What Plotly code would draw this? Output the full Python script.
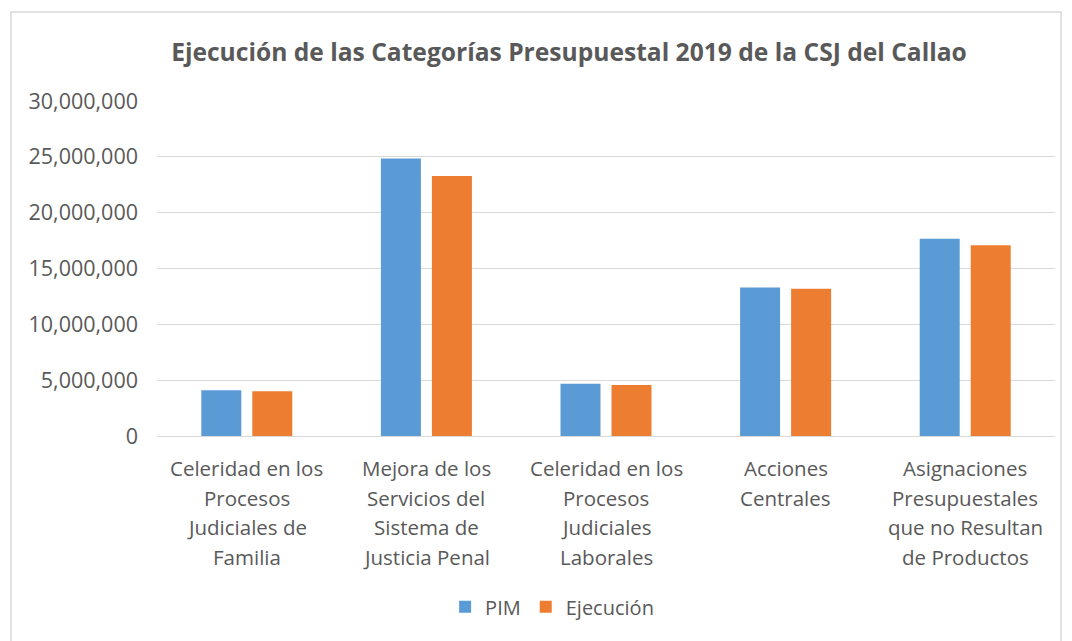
import plotly.graph_objects as go

categories = [
    "Celeridad en los<br>Procesos<br>Judiciales de<br>Familia",
    "Mejora de los<br>Servicios del<br>Sistema de<br>Justicia Penal",
    "Celeridad en los<br>Procesos<br>Judiciales<br>Laborales",
    "Acciones<br>Centrales",
    "Asignaciones<br>Presupuestales<br>que no Resultan<br>de Productos",
]
pim = [4090000, 24840000, 4690000, 13300000, 17670000]
ejecucion = [4000000, 23280000, 4570000, 13180000, 17090000]
y_ticks = [0, 5000000, 10000000, 15000000, 20000000, 25000000, 30000000]
y_tick_labels = ["0", "5,000,000", "10,000,000", "15,000,000", "20,000,000", "25,000,000", "30,000,000"]

FONT = "Open Sans, Noto Sans, sans-serif"
GREY = "#595959"
OFF = 8  # page body margin
W, H = 1072 - OFF, 641 - OFF
ML, MT = 157 - OFF, 101 - OFF
PW, PH = 898, 335

fig = go.Figure()
fig.add_trace(go.Bar(name="PIM", x=categories, y=pim, marker=dict(color="#5B9BD5", line=dict(width=0))))
fig.add_trace(go.Bar(name="Ejecución", x=categories, y=ejecucion, marker=dict(color="#ED7D31", line=dict(width=0))))

annotations = []
for cat in categories:
    for i, line in enumerate(cat.split("<br>")):
        annotations.append(dict(x=cat, xref="x", y=0, yref="paper", text=line, showarrow=False,
                                xanchor="center", yanchor="middle", yshift=-(32 + 29.5 * i),
                                font=dict(size=20.5, color=GREY, family=FONT)))

fig.update_layout(
    width=W, height=H,
    paper_bgcolor="white", plot_bgcolor="white",
    margin=dict(l=ML, r=W - ML - PW, t=MT, b=H - MT - PH),
    barmode="group", bargap=0.432, bargroupgap=0.216,
    font=dict(family=FONT, color=GREY, size=20),
    title=dict(text="<b>Ejecución de las Categorías Presupuestal 2019 de la CSJ del Callao</b>",
               x=(569 - OFF) / W, xanchor="center", xref="container",
               y=1 - (52 - OFF) / H, yanchor="middle", yref="container",
               font=dict(size=24.6, color=GREY, family=FONT)),
    legend=dict(orientation="h", x=0.44, xanchor="center", y=-0.51, yanchor="middle",
                font=dict(size=20, color=GREY), itemwidth=30, traceorder="normal"),
    xaxis=dict(showgrid=False, showline=True, linecolor="#d9d9d9", linewidth=1,
               ticks="", showticklabels=False),
    yaxis=dict(range=[0, 30000000], tickvals=y_ticks, ticktext=y_tick_labels,
               showgrid=True, gridcolor="#d9d9d9", gridwidth=1, zeroline=False,
               showline=False, ticks="", ticklen=0, ticklabelstandoff=18,
               tickfont=dict(size=21.5, color=GREY)),
    annotations=annotations,
    shapes=[dict(type="rect", xref="paper", yref="paper",
                 x0=-0.1626, x1=1.0067, y0=-0.7, y1=1.2657,
                 line=dict(color="#d9d9d9", width=1.5), fillcolor="rgba(0,0,0,0)", layer="below")],
)

fig.write_html("out.html")
